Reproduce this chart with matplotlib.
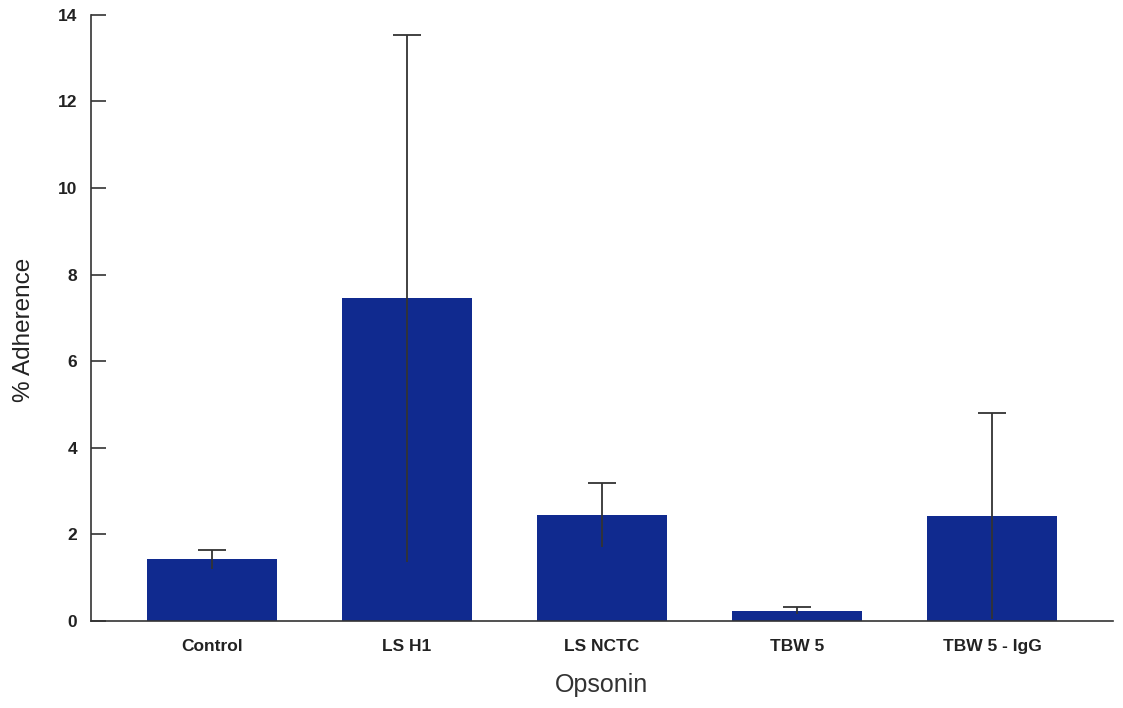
import numpy as np
import matplotlib.pyplot as plt

# Mean % adherence and error per opsonin
opsonins = ['Control', 'LS H1', 'LS NCTC', 'TBW 5', 'TBW 5 - IgG']
adherence = [1.42, 7.45, 2.45, 0.23, 2.43]
errors = [0.21, 6.08, 0.74, 0.08, 2.38]
y_ticks = [0, 2, 4, 6, 8, 10, 12, 14]

plt.rcParams['font.family'] = ['Liberation Sans', 'DejaVu Sans']

fig = plt.figure(figsize=(11.23, 7.08), dpi=100)
ax = fig.add_axes([0.081, 0.123, 0.910, 0.856])

x = np.arange(len(opsonins))
ax.bar(x, adherence, width=0.67, color='#102a8f', zorder=2)

# error bars with a cap on the upper end only
eb = ax.errorbar(x, adherence, yerr=errors, fmt='none', ecolor='#333333',
                 elinewidth=1.3, capsize=10, capthick=1.3, zorder=3)
eb[1][0].set_visible(False)

ax.set_xlim(-0.62, 4.62)
ax.set_ylim(0, 14)
ax.set_yticks(y_ticks)
ax.set_xticks(x)
ax.set_xticklabels(opsonins)

ax.spines['top'].set_visible(False)
ax.spines['right'].set_visible(False)
for s in ['left', 'bottom']:
    ax.spines[s].set_color('#333333')
    ax.spines[s].set_linewidth(1.2)

ax.tick_params(axis='y', direction='in', length=11, width=1.2, color='#333333',
               pad=10, labelsize=12.5, labelcolor='#222222')
ax.tick_params(axis='x', length=0, pad=13, labelsize=12.5, labelcolor='#222222')
for lbl in ax.get_xticklabels() + ax.get_yticklabels():
    lbl.set_fontweight('bold')

ax.set_xlabel('Opsonin', fontsize=18, color='#333333', labelpad=14)
ax.set_ylabel('% Adherence', fontsize=17.5, color='#222222', fontweight='medium')
ax.yaxis.set_label_coords(-0.055, 0.48)

fig.savefig('out.png', dpi=100)
